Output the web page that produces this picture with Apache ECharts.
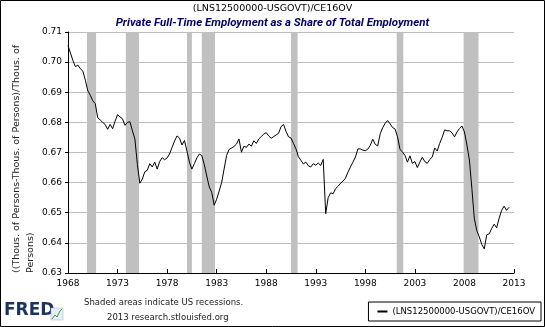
<!DOCTYPE html>
<html><head><meta charset="utf-8">
<script src="https://cdn.jsdelivr.net/npm/echarts@6/dist/echarts.min.js"></script>
<style>html,body{margin:0;padding:0;background:#fff}#c{width:545px;height:327px}</style>
</head><body><div id="c"></div>
<script>
// Quarterly values starting 1968 Q1
const startYear = 1968;
const shareValues = [
  0.7055, 0.7030, 0.7005, 0.6985,
  0.6990, 0.6978, 0.6970, 0.6940,
  0.6905, 0.6890, 0.6872, 0.6862,
  0.6815, 0.6808, 0.6800, 0.6793,
  0.6777, 0.6793, 0.6779, 0.6804,
  0.6826, 0.6818, 0.6812, 0.6790,
  0.6800, 0.6802, 0.6772, 0.6745,
  0.6660, 0.6598, 0.6612, 0.6636,
  0.6641, 0.6663, 0.6652, 0.6668,
  0.6645, 0.6670, 0.6683, 0.6676,
  0.6682, 0.6695, 0.6717, 0.6738,
  0.6755, 0.6748, 0.6725, 0.6740,
  0.6705, 0.6668, 0.6645, 0.6663,
  0.6682, 0.6695, 0.6690, 0.6660,
  0.6622, 0.6586, 0.6568, 0.6525,
  0.6545, 0.6572, 0.6600, 0.6645,
  0.6690, 0.6710, 0.6715, 0.6720,
  0.6728, 0.6745, 0.6701, 0.6721,
  0.6717, 0.6728, 0.6721, 0.6739,
  0.6730, 0.6745, 0.6753, 0.6761,
  0.6766, 0.6755, 0.6747, 0.6753,
  0.6758, 0.6764, 0.6786, 0.6793,
  0.6770, 0.6752, 0.6748, 0.6730,
  0.6712, 0.6686, 0.6674, 0.6662,
  0.6668, 0.6656, 0.6652, 0.6663,
  0.6658, 0.6665, 0.6657, 0.6677,
  0.6497, 0.6550, 0.6566, 0.6563,
  0.6580, 0.6588, 0.6598, 0.6605,
  0.6615, 0.6635, 0.6652, 0.6668,
  0.6685, 0.6712, 0.6712, 0.6708,
  0.6706, 0.6711, 0.6724, 0.6744,
  0.6727, 0.6722, 0.6762, 0.6782,
  0.6797, 0.6806, 0.6795, 0.6783,
  0.6778, 0.6752, 0.6710, 0.6702,
  0.6690, 0.6668, 0.6689, 0.6664,
  0.6670, 0.6650, 0.6668, 0.6684,
  0.6670, 0.6664, 0.6677, 0.6685,
  0.6715, 0.6705, 0.6730, 0.6750,
  0.6775, 0.6772, 0.6772, 0.6765,
  0.6752, 0.6768, 0.6780, 0.6788,
  0.6768, 0.6725, 0.6675, 0.6580,
  0.6480, 0.6440, 0.6420, 0.6395,
  0.6380, 0.6427, 0.6430, 0.6448,
  0.6462, 0.6450, 0.6482, 0.6508,
  0.6522, 0.6508, 0.6518
];
const recessionPeaks   = ['1969-12','1973-11','1980-01','1981-07','1990-07','2001-03','2007-12'];
const recessionTroughs = ['1970-11','1975-03','1980-07','1982-11','1991-03','2001-11','2009-06'];
const xTickYears = [1968,1973,1978,1983,1988,1993,1998,2003,2008,2013];
const yTickLabels = ['0.63','0.64','0.65','0.66','0.67','0.68','0.69','0.70','0.71'];
const seriesName = '(LNS12500000-USGOVT)/CE16OV';
const chartTitle = '(LNS12500000-USGOVT)/CE16OV';
const chartSubtitle = 'Private Full-Time Employment as a Share of Total Employment';
const yAxisTitle = '((Thous. of Persons-Thous. of Persons)/Thous. of\nPersons)';
const footLine1 = 'Shaded areas indicate US recessions.';
const footLine2 = '2013 research.stlouisfed.org';

function toOffset(ym){ const p = ym.split('-'); return (+p[0] + (+p[1]-1)/12) - startYear; }
const lineData = shareValues.map((v,i)=>[i*0.25, v]);
const areas = recessionPeaks.map((p,i)=>[{xAxis: toOffset(p)},{xAxis: toOffset(recessionTroughs[i])}]);

const FONT = 'DejaVu Sans';
const chart = echarts.init(document.getElementById('c'), null, {renderer:'canvas'});
chart.setOption({
  animation:false,
  backgroundColor:'#fff',
  title:{
    text: chartTitle, subtext: chartSubtitle, left:'center', top:4, itemGap:3, padding:0,
    textStyle:{fontFamily:FONT, fontSize:9.5, fontWeight:'normal', color:'#000'},
    subtextStyle:{fontFamily:'Roboto', fontSize:11.5, fontWeight:'bold', fontStyle:'italic', color:'#000066'}
  },
  grid:{left:68, right:31, top:32, bottom:54, containLabel:false},
  xAxis:{
    type:'value', min:0, max:(xTickYears[xTickYears.length-1]-startYear), interval:5,
    axisLine:{onZero:false, lineStyle:{color:'#000', width:1}},
    axisTick:{inside:true, length:4, lineStyle:{color:'#000'}},
    splitLine:{show:false},
    axisLabel:{fontFamily:FONT, fontSize:9, color:'#000', margin:6,
      formatter:(v)=>String(startYear+v)}
  },
  yAxis:{
    type:'value', min:0.63, max:0.71, interval:0.01,
    axisLine:{show:true, lineStyle:{color:'#000', width:1}},
    axisTick:{show:true, length:3, lineStyle:{color:'#000'}},
    splitLine:{show:true, lineStyle:{color:'#bdbdbd', width:1}},
    axisLabel:{fontFamily:FONT, fontSize:9, color:'#000', margin:6,
      formatter:(v)=>yTickLabels[Math.round((v-0.63)*100)] || v.toFixed(2)}
  },
  legend:{
    right:4, top:302, orient:'horizontal',
    itemWidth:10, itemHeight:2, itemGap:6,
    borderColor:'#000', borderWidth:1, padding:[5,6,5,9],
    textStyle:{fontFamily:FONT, fontSize:8.5, color:'#000'},
    data:[{name:seriesName, icon:'rect', itemStyle:{color:'#000'}}]
  },
  series:[{
    name: seriesName, type:'line', data: lineData, showSymbol:false, symbol:'none',
    lineStyle:{color:'#000', width:1}, itemStyle:{color:'#000'}, z:5,
    markArea:{silent:true, itemStyle:{color:'#c0c0c0', opacity:1}, data: areas}
  }],
  graphic:[
    {type:'rect', shape:{x:0.5,y:0.5,width:544,height:326}, style:{fill:'none', stroke:'#000', lineWidth:1}, z:100},
    {type:'text', x:10, y:273, rotation:Math.PI/2,
      style:{text:yAxisTitle, font:'9.5px "DejaVu Sans"', fill:'#222', textAlign:'left', textVerticalAlign:'top', lineHeight:14}},
    {type:'text', x:4, y:302, style:{text:'FRED', font:'bold 17px "DejaVu Sans"', fill:'#1d3461'}},
    {type:'rect', shape:{x:51,y:308,width:12,height:12}, style:{fill:'#e8eef6', stroke:'#9fb3cc', lineWidth:0.5}},
    {type:'polyline', shape:{points:[[52,319],[55,315],[57,317],[60,311],[62,309]]}, style:{stroke:'#3a9a3a', lineWidth:1, fill:'none'}},
    {type:'text', x:84, y:298, style:{text:footLine1, font:'8.5px "DejaVu Sans"', fill:'#222'}},
    {type:'text', x:107, y:313, style:{text:footLine2, font:'8.5px "DejaVu Sans"', fill:'#222'}}
  ]
});
</script></body></html>
